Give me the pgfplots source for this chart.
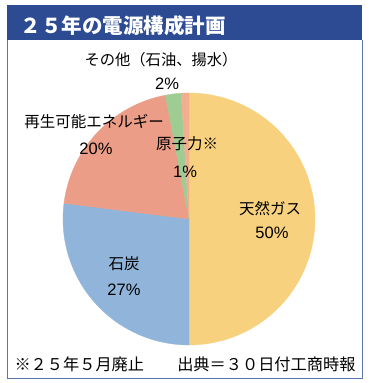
\documentclass[border=0pt]{standalone}
\usepackage{pgfplots}
\pgfplotsset{compat=1.18}
\usepackage{pgfplotstable}
\usepackage{fontspec}
\setmainfont{Noto Sans CJK JP}
\newfontfamily\latinfont{Liberation Sans}
\definecolor{cgas}{HTML}{F8D17E}
\definecolor{ccoal}{HTML}{91B5DA}
\definecolor{crenew}{HTML}{EC9D87}
\definecolor{cother}{HTML}{9ECC93}
\definecolor{cnuc}{HTML}{F2AF8F}
\definecolor{cbar}{HTML}{2D4B92}
\definecolor{cframe}{HTML}{5A76AE}

\pgfplotstableread{
share
50
27
20
2
1
}\piedata
\pgfplotstablegetelem{0}{share}\of\piedata \let\sA\pgfplotsretval
\pgfplotstablegetelem{1}{share}\of\piedata \let\sB\pgfplotsretval
\pgfplotstablegetelem{2}{share}\of\piedata \let\sC\pgfplotsretval
\pgfplotstablegetelem{3}{share}\of\piedata \let\sD\pgfplotsretval
\pgfplotstablegetelem{4}{share}\of\piedata \let\sE\pgfplotsretval
\pgfmathsetmacro{\aO}{90}
\pgfmathsetmacro{\aA}{\aO-3.6*\sA}
\pgfmathsetmacro{\aB}{\aA-3.6*\sB}
\pgfmathsetmacro{\aC}{\aB-3.6*\sC}
\pgfmathsetmacro{\aD}{\aC-3.6*\sD}
\pgfmathsetmacro{\aE}{\aD-3.6*\sE}

\begin{document}
\begin{tikzpicture}
\begin{axis}[
  x=1pt, y=1pt, xmin=0, xmax=370, ymin=0, ymax=383,
  hide axis, clip=false, anchor=south west, at={(0,0)},
]
% frame and title bar
\fill[white] (axis cs:0,0) rectangle (axis cs:370,383);
\fill[cbar] (axis cs:7,343) rectangle (axis cs:362,378);
\draw[cframe, line width=0.9pt] (axis cs:7,343) -- (axis cs:7,5) -- (axis cs:362,5) -- (axis cs:362,343);
\node[text=white, font=\fontsize{20.5}{22}\selectfont\bfseries, anchor=west] at (axis cs:17,357) {２５年の電源構成計画};
% pie slices
\addplot[fill=cgas, draw=cgas, line width=0.3pt, domain=\aA:\aO, samples=120, variable=\t] ({189+126*cos(\t)},{164+126*sin(\t)}) -- (axis cs:189,164) -- cycle;
\addplot[fill=ccoal, draw=ccoal, line width=0.3pt, domain=\aB:\aA, samples=80, variable=\t] ({189+126*cos(\t)},{164+126*sin(\t)}) -- (axis cs:189,164) -- cycle;
\addplot[fill=crenew, draw=crenew, line width=0.3pt, domain=\aC:\aB, samples=60, variable=\t] ({189+126*cos(\t)},{164+126*sin(\t)}) -- (axis cs:189,164) -- cycle;
\addplot[fill=cother, draw=cother, line width=0.3pt, domain=\aD:\aC, samples=10, variable=\t] ({189+126*cos(\t)},{164+126*sin(\t)}) -- (axis cs:189,164) -- cycle;
\addplot[fill=cnuc, draw=cnuc, line width=0.3pt, domain=\aE:\aD, samples=6, variable=\t] ({189+126*cos(\t)},{164+126*sin(\t)}) -- (axis cs:189,164) -- cycle;
% labels
\node[font=\fontsize{15.3}{17}\selectfont] at (axis cs:161,323) {その他（石油、揚水）};
\node[font=\fontsize{16.5}{18}\selectfont\latinfont] at (axis cs:167,299) {2\%};
\node[font=\fontsize{15.5}{17}\selectfont] at (axis cs:94,261) {再生可能エネルギー};
\node[font=\fontsize{16.5}{18}\selectfont\latinfont] at (axis cs:96,234) {20\%};
\node[font=\fontsize{15.5}{17}\selectfont] at (axis cs:187,239) {原子力※};
\node[font=\fontsize{16.5}{18}\selectfont\latinfont] at (axis cs:185,211) {1\%};
\node[font=\fontsize{15.5}{17}\selectfont] at (axis cs:270,174) {天然ガス};
\node[font=\fontsize{16.5}{18}\selectfont\latinfont] at (axis cs:272,150) {50\%};
\node[font=\fontsize{15.5}{17}\selectfont] at (axis cs:124,119) {石炭};
\node[font=\fontsize{16.5}{18}\selectfont\latinfont] at (axis cs:124,93) {27\%};
% footer
\node[font=\fontsize{16.2}{18}\selectfont, anchor=west] at (axis cs:11,19) {※２５年５月廃止};
\node[font=\fontsize{16.2}{18}\selectfont, anchor=east] at (axis cs:359,19) {出典＝３０日付工商時報};
\end{axis}
\end{tikzpicture}
\end{document}
